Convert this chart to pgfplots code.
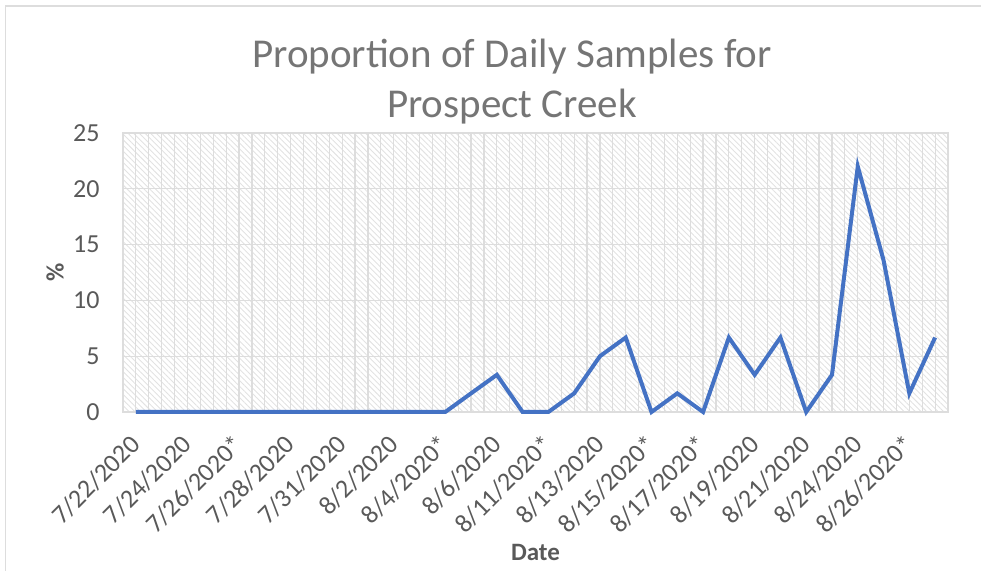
\documentclass[border=0pt]{standalone}
\usepackage{pgfplots}
\pgfplotsset{compat=1.18}
\usepackage{fontspec}
\setmainfont{Carlito}
\usetikzlibrary{patterns.meta}
\definecolor{xlblue}{HTML}{4472C4}
\definecolor{txtgray}{HTML}{595959}
\definecolor{titlegray}{HTML}{757575}
\definecolor{gridgray}{HTML}{DDDDDD}
\definecolor{hatchgray}{HTML}{E2E2E2}
\begin{document}
\begin{tikzpicture}
\path[use as bounding box] (0pt,0pt) rectangle (490.5pt,285.5pt);
\draw[gridgray, line width=0.6pt] (2.75pt,-1pt) -- (2.75pt,282.5pt) -- (495pt,282.5pt);
\node[anchor=base, text=titlegray, font=\fontsize{20.5}{24}\selectfont] at (256pt,251.5pt) {Proportion of Daily Samples for};
\node[anchor=base, text=titlegray, font=\fontsize{20.5}{24}\selectfont] at (256pt,226.5pt) {Prospect Creek};
\begin{axis}[
  at={(61.5pt,79.5pt)}, anchor=south west,
  scale only axis, width=412.5pt, height=139.5pt,
  xmin=-0.5, xmax=31.5, ymin=0, ymax=25,
  axis background/.style={pattern={Lines[angle=-45,distance=2pt,line width=0.45pt]}, pattern color=hatchgray},
  axis line style={draw=gridgray, line width=0.6pt},
  major tick length=0pt, minor tick length=0pt,
  ytick={0,5,...,25},
  ymajorgrids, major grid style={draw=gridgray, line width=0.6pt},
  xtick={0,2,...,30},
  xticklabels={7/22/2020,7/24/2020,7/26/2020*,7/28/2020,7/31/2020,8/2/2020,8/4/2020*,8/6/2020,8/11/2020*,8/13/2020,8/15/2020*,8/17/2020*,8/19/2020,8/21/2020,8/24/2020,8/26/2020*},
  minor xtick={-0.5,0,...,31.5},
  xminorgrids, minor grid style={draw=gridgray, line width=0.6pt},
  /pgf/number format/assume math mode=true,
  tick label style={text=txtgray, font=\fontsize{13}{15}\selectfont},
  yticklabel style={anchor=east, inner sep=0pt, xshift=-11.5pt},
  xticklabel style={xshift=0pt, yshift=-14pt, rotate=45, anchor=east, inner sep=0pt},
  xlabel={Date}, ylabel={\%},
  label style={text=txtgray, font=\fontsize{12.5}{15}\selectfont\bfseries},
  xlabel style={at={(axis description cs:0.5,0)}, anchor=center, yshift=-70pt},
  ylabel style={at={(axis description cs:0,0.5)}, anchor=center, yshift=34pt},
  clip=false,
]
\addplot[xlblue, line width=2pt, line join=miter] coordinates {
(0,0) (1,0) (2,0) (3,0) (4,0) (5,0) (6,0) (7,0) (8,0) (9,0) (10,0) (11,0) (12,0)
(13,1.67) (14,3.33) (15,0) (16,0) (17,1.67) (18,5) (19,6.67) (20,0) (21,1.67)
(22,0) (23,6.67) (24,3.33) (25,6.67) (26,0) (27,3.33) (28,22) (29,13.6)
(30,1.67) (31,6.67)
};
\end{axis}
\end{tikzpicture}
\end{document}
